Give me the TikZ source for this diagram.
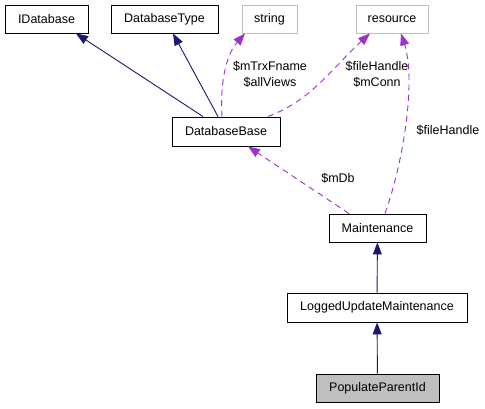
\documentclass[tikz,border=0pt]{standalone}
\usepackage{fontspec}
\setmainfont{Liberation Sans}
\usetikzlibrary{arrows.meta}
\definecolor{navy}{HTML}{191970}
\definecolor{dpurple}{HTML}{9A32CD}
\definecolor{lgray}{HTML}{BFBFBF}
\begin{document}
\begin{tikzpicture}[x=1pt,y=-1pt,
  every node/.style={font=\fontsize{12.5}{15.5}\selectfont, inner sep=0pt},
  cls/.style={draw=black, line width=0.9pt, fill=white, minimum height=28pt},
  ext/.style={draw=lgray, line width=0.9pt, fill=white, minimum height=28pt},
  inh/.style={draw=navy, line width=0.9pt, -{Triangle[length=12pt,width=9pt]}, shorten >=0pt},
  use/.style={draw=dpurple, line width=0.9pt, dash pattern=on 6pt off 4.5pt, -{Triangle[length=12pt,width=9pt]}},
  lbl/.style={align=center}]
\useasboundingbox (0,0) rectangle (485,408);
\node[cls, minimum width=83pt] (idb) at (46.5,19) {IDatabase};
\node[cls, minimum width=107pt] (dbt) at (164.5,19) {DatabaseType};
\node[ext, minimum width=55pt] (str) at (269.5,19) {string};
\node[ext, minimum width=72pt] (res) at (392,19) {resource};
\node[cls, minimum width=108pt, minimum height=29pt] (dbb) at (226,131.5) {DatabaseBase};
\node[cls, minimum width=97pt] (mnt) at (377.5,228) {Maintenance};
\node[cls, minimum width=180pt, minimum height=29pt] (lum) at (377,307.5) {LoggedUpdateMaintenance};
\node[cls, fill=lgray, minimum width=123pt] (ppi) at (377.5,388) {PopulateParentId};

\draw[inh] (dbb.north -| 203,0) -- (idb.south -| 76,0);
\draw[inh] (dbb.north -| 218,0) -- (dbt.south -| 173,0);
\draw[use] (dbb.north -| 222,0) .. controls (220,82) and (226,55) .. (str.south -| 245,0);
\draw[use] (dbb.north -| 268,0) .. controls (312,100) and (332,68) .. (res.south -| 370,0);
\draw[use] (mnt.north -| 349,0) -- (dbb.south -| 248,0);
\draw[use] (mnt.north -| 385,0) .. controls (404,160) and (416,80) .. (res.south -| 401,0);
\draw[inh] (lum) -- (mnt);
\draw[inh] (ppi) -- (lum);

\node[lbl] (l1) at (270,74.5) {\$mTrxFname\\\$allViews};
\node[lbl] (l2) at (377,74.5) {\$fileHandle\\\$mConn};
\node[lbl] (l3) at (338,178) {\$mDb};
\node[lbl] (l4) at (448,130) {\$fileHandle};
\end{tikzpicture}
\end{document}
